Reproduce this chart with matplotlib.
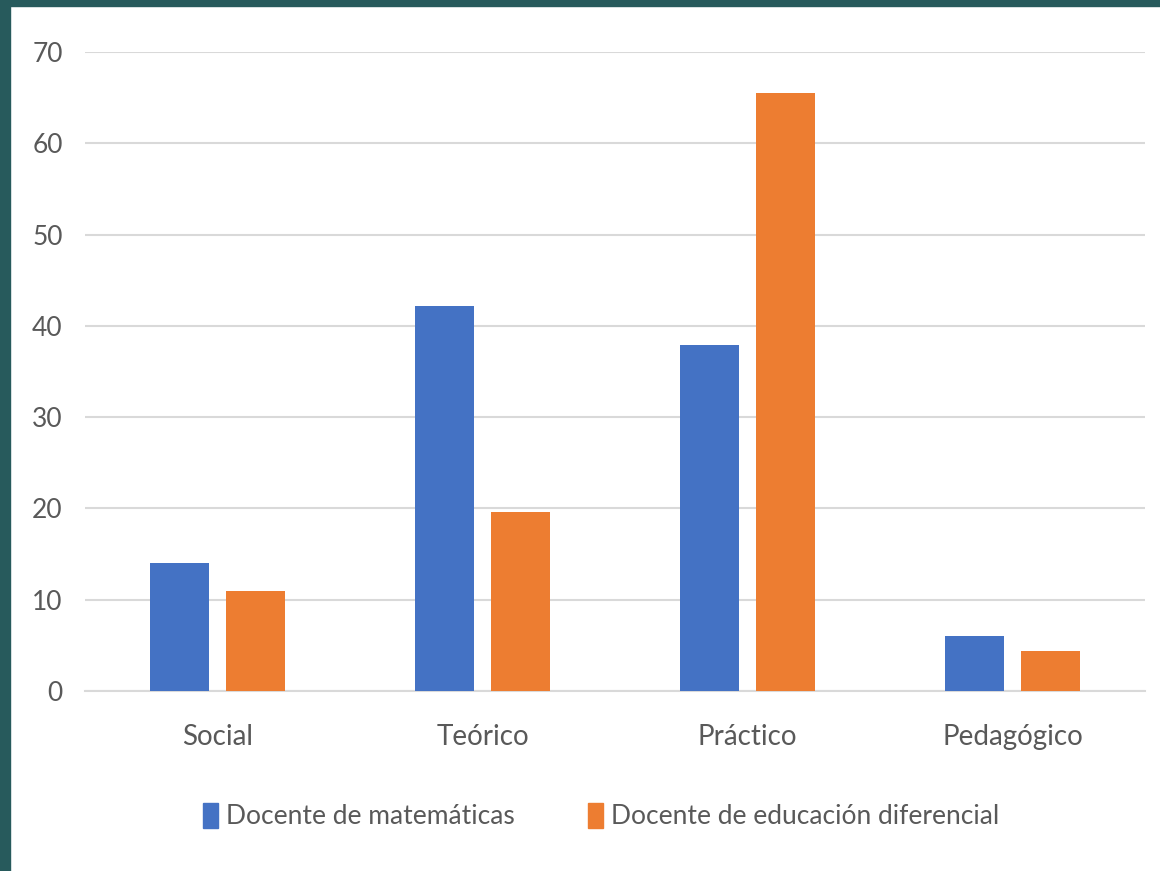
import matplotlib.pyplot as plt
import matplotlib.patches as mpatches
import numpy as np

categories = ["Social", "Teórico", "Práctico", "Pedagógico"]
matematicas = [14.0, 42.2, 37.9, 6.0]
diferencial = [11.0, 19.6, 65.5, 4.4]
series_names = ["Docente de matemáticas", "Docente de educación diferencial"]
yticks = [0, 10, 20, 30, 40, 50, 60, 70]

blue = "#4472C4"
orange = "#ED7D31"
text_col = "#595959"
font = ["Lato", "DejaVu Sans"]

fig = plt.figure(figsize=(11.6, 8.71), dpi=100)
fig.patch.set_facecolor("white")
# dark border on left and top
fig.add_artist(mpatches.Rectangle((0, 0), 10 / 1160, 1, transform=fig.transFigure,
                                  color="#275A5C", zorder=0))
fig.add_artist(mpatches.Rectangle((0, 1 - 6 / 871), 1, 6 / 871, transform=fig.transFigure,
                                  color="#275A5C", zorder=0))

ax = fig.add_axes([85 / 1160, 1 - 691 / 871, 1060 / 1160, 639 / 871])
x = np.arange(len(categories))
w = 0.223
off = 0.143
ax.bar(x - off, matematicas, w, color=blue, zorder=3)
ax.bar(x + off, diferencial, w, color=orange, zorder=3)

ax.set_xlim(-0.5, len(categories) - 0.5)
ax.set_ylim(0, 70)
ax.set_yticks(yticks)
ax.set_yticklabels([str(t) for t in yticks], family=font, fontsize=19, color=text_col)
ax.set_xticks(x)
ax.set_xticklabels(categories, family=font, fontsize=20, color=text_col)
ax.tick_params(length=0)
ax.tick_params(axis="y", pad=16)
ax.tick_params(axis="x", pad=24)
ax.grid(axis="y", color="#D9D9D9", linewidth=1.5, zorder=0)
for s in ["top", "right", "left"]:
    ax.spines[s].set_visible(False)
ax.spines["bottom"].set_color("#D9D9D9")
ax.spines["bottom"].set_linewidth(1.5)

handles = [mpatches.Patch(color=blue), mpatches.Patch(color=orange)]
fig.legend(handles, series_names, loc="center", bbox_to_anchor=(601 / 1160, 1 - 816 / 871),
           ncol=2, frameon=False, prop={"family": font, "size": 19},
           labelcolor=text_col, handlelength=0.55, handleheight=1.1, handletextpad=0.3,
           columnspacing=2.8)

fig.savefig("out.png", dpi=100)
